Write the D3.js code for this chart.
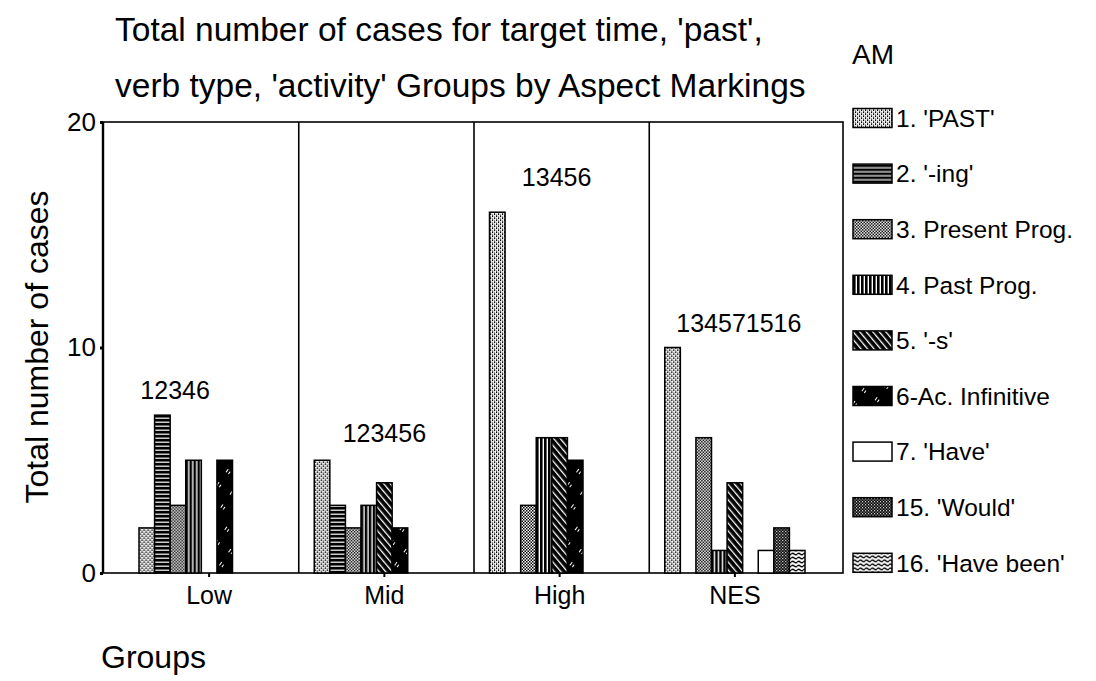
<!DOCTYPE html>
<html>
<head>
<meta charset="utf-8">
<script src="https://cdn.jsdelivr.net/npm/d3@7/dist/d3.min.js"></script>
<style>
  html, body { margin: 0; padding: 0; background: #fff; }
  svg { display: block; }
  text { font-family: "Liberation Sans", Arial, sans-serif; fill: #000; }
</style>
</head>
<body>
<svg id="chart" width="1096" height="681"></svg>
<script>
// ---- data ----
const groups = ["Low", "Mid", "High", "NES"];
const markings = ["1. 'PAST'", "2. '-ing'", "3. Present Prog.", "4. Past Prog.", "5. '-s'",
                  "6-Ac. Infinitive", "7. 'Have'", "15. 'Would'", "16. 'Have been'"];
const markingCodes = ["1", "2", "3", "4", "5", "6", "7", "15", "16"];
const lowValues  = [2, 7, 3, 5, 0, 5, 0, 0, 0];
const midValues  = [5, 3, 2, 3, 4, 2, 0, 0, 0];
const highValues = [16, 0, 3, 6, 6, 5, 0, 0, 0];
const nesValues  = [10, 0, 6, 1, 4, 0, 1, 2, 1];
const yTicks = [0, 10, 20];
const titleLines = ["Total number of cases for target time, 'past',",
                    "verb type, 'activity' Groups by Aspect Markings"];

const seriesByGroup = [lowValues, midValues, highValues, nesValues];

// ---- layout ----
const svg = d3.select("#chart");
const frame = { left: 103, right: 843, top: 122, bottom: 573 };

const y = d3.scaleLinear().domain([0, 20]).range([frame.bottom, frame.top]);
const x0 = d3.scaleBand().domain(groups).range([121.5, 822.5]).padding(0);
const x1 = d3.scaleBand().domain(markingCodes).range([17.5, x0.bandwidth() - 17.5]).padding(0);

// ---- patterns ----
const defs = svg.append("defs");
function pat(id, w, h, bg, draw) {
  const p = defs.append("pattern").attr("id", id).attr("patternUnits", "userSpaceOnUse")
    .attr("width", w).attr("height", h);
  p.append("rect").attr("width", w).attr("height", h).attr("fill", bg);
  draw(p);
}
// 1 PAST: light stipple
pat("p1", 4, 4, "#fff", p => {
  [[0,0],[2,2],[2,0.6],[0,2.6]].forEach(([a,b]) => p.append("rect").attr("x", a).attr("y", b).attr("width", 1.2).attr("height", 1.1).attr("fill", "#000"));
});
// 2 -ing: black with white horizontal lines
pat("p2", 8, 4, "#000", p => {
  p.append("rect").attr("x", 0).attr("y", 1.6).attr("width", 8).attr("height", 1.2).attr("fill", "#fff");
});
// 3 Present Prog: checker
pat("p3", 3, 3, "#fff", p => {
  p.append("rect").attr("x", 0).attr("y", 0).attr("width", 1.5).attr("height", 1.5).attr("fill", "#000");
  p.append("rect").attr("x", 1.5).attr("y", 1.5).attr("width", 1.5).attr("height", 1.5).attr("fill", "#000");
});
// 4 Past Prog: vertical lines
pat("p4", 4, 4, "#fff", p => {
  p.append("rect").attr("x", 0).attr("y", 0).attr("width", 2.6).attr("height", 4).attr("fill", "#000");
});
// 5 -s: black with white diagonal lines
pat("p5", 5, 5, "#000", p => {
  p.attr("patternTransform", "rotate(-40)");
  p.append("rect").attr("x", 0).attr("y", 0).attr("width", 1.3).attr("height", 5).attr("fill", "#fff");
});
// 6 Ac. Infinitive: black with sparse white dashes
pat("p6", 16, 16, "#000", p => {
  p.attr("patternTransform", "rotate(35)");
  p.append("rect").attr("x", 4).attr("y", 3).attr("width", 1).attr("height", 4).attr("fill", "#fff");
  p.append("rect").attr("x", 7).attr("y", 4).attr("width", 1).attr("height", 3).attr("fill", "#fff");
});
// 7 Have: white
pat("p7", 4, 4, "#fff", p => {});
// 15 Would: dark stipple
pat("p15", 3, 3, "#000", p => {
  p.append("rect").attr("x", 0).attr("y", 0).attr("width", 1.1).attr("height", 1.1).attr("fill", "#fff");
  p.append("rect").attr("x", 1.5).attr("y", 1.5).attr("width", 1.1).attr("height", 1.1).attr("fill", "#fff");
});
// 16 Have been: wavy lines
pat("p16", 6, 4, "#fff", p => {
  p.append("path").attr("d", "M0,2 Q1.5,0.5 3,2 T6,2").attr("fill", "none").attr("stroke", "#000").attr("stroke-width", 1.4);
});

const fillFor = code => `url(#p${code})`;

// ---- title ----
svg.append("g").selectAll("text").data(titleLines).join("text")
  .attr("x", 115).attr("y", (d, i) => 41 + i * 56)
  .attr("font-size", 33.5).text(d => d);

// ---- frame ----
const g = svg.append("g");
g.append("rect").attr("x", frame.left).attr("y", frame.top)
  .attr("width", frame.right - frame.left).attr("height", frame.bottom - frame.top)
  .attr("fill", "none").attr("stroke", "#000").attr("stroke-width", 1.6);
// dividers between groups
g.selectAll("line.div").data(groups.slice(1)).join("line").attr("class", "div")
  .attr("x1", d => x0(d) + 2).attr("x2", d => x0(d) + 2)
  .attr("y1", frame.top).attr("y2", frame.bottom)
  .attr("stroke", "#000").attr("stroke-width", 1.6);
// thicker left axis line
g.append("line").attr("x1", frame.left).attr("x2", frame.left).attr("y1", frame.top).attr("y2", frame.bottom)
  .attr("stroke", "#000").attr("stroke-width", 2.4);

// ---- y axis ----
const yAxis = d3.axisLeft(y).tickValues(yTicks).tickSize(3).tickPadding(4);
const ya = svg.append("g").attr("transform", `translate(${frame.left},0)`).call(yAxis);
ya.select(".domain").remove();
ya.selectAll(".tick line").attr("stroke", "#000").attr("stroke-width", 3);
ya.selectAll(".tick text").attr("font-size", 26).attr("font-family", "Liberation Sans, Arial, sans-serif").attr("fill", "#000");

// ---- x axis ----
const xAxis = d3.axisBottom(x0).tickSize(4).tickPadding(9);
const xa = svg.append("g").attr("transform", `translate(0,${frame.bottom})`).call(xAxis);
xa.select(".domain").remove();
xa.selectAll(".tick line").attr("stroke", "#000").attr("stroke-width", 2);
xa.selectAll(".tick text").attr("font-size", 25).attr("font-family", "Liberation Sans, Arial, sans-serif").attr("fill", "#000");

// ---- bars ----
const bars = svg.append("g").selectAll("g").data(groups).join("g")
  .attr("transform", d => `translate(${x0(d)},0)`);
bars.selectAll("rect").data((d, gi) => seriesByGroup[gi].map((v, si) => ({ code: markingCodes[si], v })))
  .join("rect")
  .filter(d => d.v > 0)
  .attr("x", d => x1(d.code))
  .attr("width", x1.bandwidth())
  .attr("y", d => y(d.v))
  .attr("height", d => y(0) - y(d.v))
  .attr("fill", d => fillFor(d.code))
  .attr("stroke", "#000").attr("stroke-width", 1.5);

// ---- cluster labels (codes of non-zero series) ----
const labelDx = [-34, 0, -3, 4];
const labelDy = [-16, -18, -26, -16];
svg.append("g").selectAll("text").data(groups).join("text")
  .attr("x", (d, i) => x0(d) + x0.bandwidth() / 2 + labelDx[i])
  .attr("y", (d, i) => y(d3.max(seriesByGroup[i])) + labelDy[i])
  .attr("text-anchor", "middle").attr("font-size", 25)
  .text((d, i) => markingCodes.filter((c, si) => seriesByGroup[i][si] > 0).join(""));

// ---- axis titles ----
svg.append("text").attr("transform", "translate(48,347) rotate(-90)")
  .attr("text-anchor", "middle").attr("font-size", 32).text("Total number of cases");
svg.append("text").attr("x", 101).attr("y", 668).attr("font-size", 32).text("Groups");

// ---- legend ----
svg.append("text").attr("x", 852).attr("y", 64).attr("font-size", 28).text("AM");
const leg = svg.append("g").selectAll("g").data(markings).join("g")
  .attr("transform", (d, i) => `translate(853,${118 + i * 55.6})`);
leg.append("rect").attr("x", 0).attr("y", -9.5).attr("width", 39).attr("height", 19)
  .attr("fill", (d, i) => fillFor(markingCodes[i])).attr("stroke", "#000").attr("stroke-width", 1.5);
leg.append("text").attr("x", 43).attr("dy", "0.36em").attr("font-size", 24.5).text(d => d);
</script>
</body>
</html>
